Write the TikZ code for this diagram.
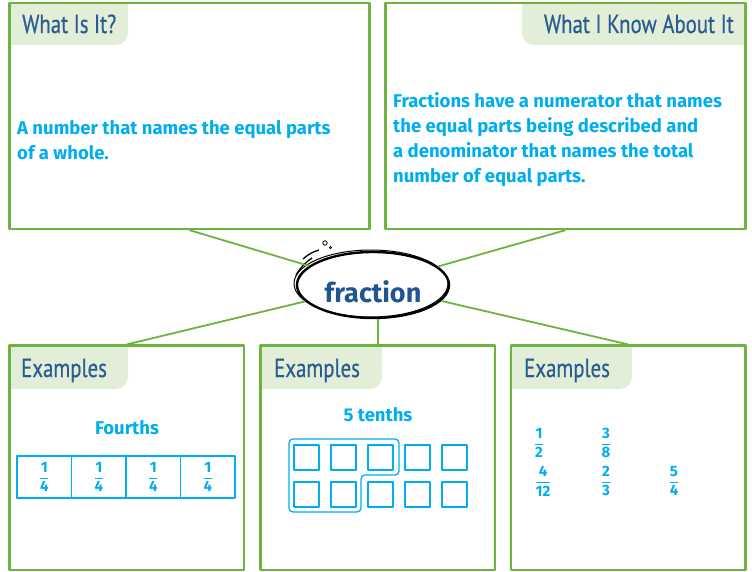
\documentclass[tikz,border=0pt]{standalone}
\usepackage{amsmath}
\usepackage{fontspec}
\setmainfont{Fira Sans}
\newfontfamily\headfont[FakeStretch=0.8,FakeBold=0.5]{PT Sans}
\usepackage{tikz}
\usetikzlibrary{shapes.geometric}

\definecolor{boxgreen}{HTML}{6DB33F}
\definecolor{tabgreen}{HTML}{E2EED8}
\definecolor{headblue}{HTML}{2A5C8F}
\definecolor{textcyan}{HTML}{00AEEF}
\definecolor{wordblue}{HTML}{1F5590}

\newcommand{\fr}[2]{$\genfrac{}{}{0.9pt}{0}{\textbf{#1}}{\textbf{#2}}$}

\tikzset{
  card/.style={draw=boxgreen, line width=2.3pt, inner sep=0pt},
  headtext/.style={font=\headfont\fontsize{26}{30}\selectfont, text=headblue, inner sep=0pt},
  bodytext/.style={font=\bfseries\fontsize{18.5}{25}\selectfont, text=textcyan, align=left, anchor=west, inner sep=0pt},
  labeltext/.style={font=\bfseries\fontsize{18.5}{20}\selectfont, text=textcyan, inner sep=0pt},
  link/.style={draw=boxgreen, line width=1.8pt},
  hub/.style={ellipse, draw=black, line width=2.4pt, fill=white, minimum width=152pt, minimum height=66pt, inner sep=0pt},
  fracnum/.style={font=\bfseries\fontsize{15}{17}\selectfont, text=textcyan, inner sep=0pt},
  fourthcell/.style={draw=textcyan, line width=1.2pt, minimum width=54.5pt, minimum height=42pt, inner sep=0pt, fracnum},
  tenthcell/.style={draw=textcyan, line width=1.4pt, minimum width=25pt, minimum height=25pt, inner sep=0pt}
}

\begin{document}
\begin{tikzpicture}[x=1pt,y=-1pt,line join=round]
  \useasboundingbox (0,0) rectangle (752,572);

  % title tabs
  \fill[tabgreen] (9.5,2.8) -- (128,2.8) -- (128,33) arc[start angle=0,end angle=90,radius=12] -- (9.5,45) -- cycle;
  \fill[tabgreen] (745.5,2.8) -- (522,2.8) -- (522,33) arc[start angle=180,end angle=90,radius=12] -- (745.5,45) -- cycle;
  \foreach \xa/\xb in {9.5/128, 260.6/382, 511/632}{
    \fill[tabgreen] (\xa,345.6) -- (\xb,345.6) -- (\xb,377) arc[start angle=0,end angle=90,radius=12] -- (\xa,389) -- cycle;
  }

  % boxes
  \node[card, minimum width=360pt, minimum height=226pt] (whatbox) at (189.5,116) {};
  \node[card, minimum width=360pt, minimum height=226pt] (knowbox) at (565.5,116) {};
  \node[card, minimum width=234.5pt, minimum height=224.4pt] (leftbox) at (126.75,457.8) {};
  \node[card, minimum width=234.4pt, minimum height=224.4pt] (midbox) at (377.8,457.8) {};
  \node[card, minimum width=234.5pt, minimum height=224.4pt] (rightbox) at (628.25,457.8) {};

  % titles
  \node[headtext, anchor=base west] (whattitle) at (22,33) {What Is It?};
  \node[headtext, anchor=base east] (knowtitle) at (734,33) {What I Know About It};
  \node[headtext, anchor=base west] (lefttitle) at (21,377) {Examples};
  \node[headtext, anchor=base west] (midtitle) at (274,377) {Examples};
  \node[headtext, anchor=base west] (righttitle) at (524,377) {Examples};

  % body texts
  \node[bodytext] (whattext) at (17,140) {A number that names the equal parts\\of a whole.};
  \node[bodytext] (knowtext) at (393,140) {Fractions have a numerator that names\\the equal parts being described and\\a denominator that names the total\\number of equal parts.};

  % central word
  \node[hub] (hub) at (373,285) {};
  \draw[line width=1pt] (371,283.5) ellipse[x radius=77, y radius=33.5];
  \draw[line width=1.3pt] (303,259) to[bend left=12] (319,250);
  \draw[line width=1.3pt] (296,275) to[bend left=12] (312,258);
  \draw[line width=0.8pt] (325,243) circle[radius=2.2];
  \draw[line width=0.7pt] (330.5,247.5) circle[radius=1.2];
  \node[font=\bfseries\fontsize{27}{30}\selectfont, text=wordblue, inner sep=0pt] (word) at (373,292) {fraction};

  % connectors
  \draw[link] (whatbox.south) -- (hub);
  \draw[link] (knowbox.south) -- (hub);
  \draw[link] (leftbox.north) -- (hub);
  \draw[link] (rightbox.north) -- (hub);
  \draw[link] (midbox.north) -- (midbox.north |- hub.south);

  % fourths
  \node[labeltext] (fourthslabel) at (127,428) {Fourths};
  \foreach \i in {1,...,4}{
    \node[fourthcell] (q\i) at (17+54.5*\i-27.25,477) {\fr{1}{4}};
  }

  % tenths
  \node[labeltext] (tenthslabel) at (378,415) {5 tenths};
  \foreach \c in {1,...,5}{
    \node[tenthcell] (ta\c) at (269.5+37*\c,457.5) {};
    \node[tenthcell] (tb\c) at (269.5+37*\c,494.5) {};
  }
  \draw[textcyan, line width=1.3pt, rounded corners=4pt]
    (289,439) -- (399,439) -- (399,475) -- (361,475) -- (361,512) -- (289,512) -- cycle;

  % fraction list
  \node[fracnum] (half) at (539,443) {\fr{1}{2}};
  \node[fracnum] (threeeighths) at (606,443) {\fr{3}{8}};
  \node[fracnum] (fourtwelfths) at (543,481) {\fr{4}{12}};
  \node[fracnum] (twothirds) at (606,481) {\fr{2}{3}};
  \node[fracnum] (fivefourths) at (674,481) {\fr{5}{4}};
\end{tikzpicture}
\end{document}
